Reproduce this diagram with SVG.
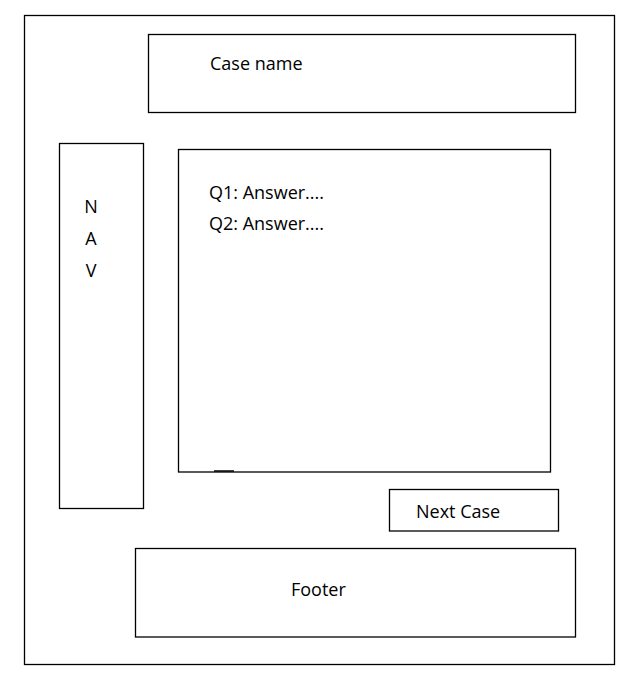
<svg xmlns="http://www.w3.org/2000/svg" width="632" height="678" viewBox="0 0 632 678">
<style>
.box{fill:#fff;stroke:#000;stroke-width:1.3}
.t{font-family:"Open Sans","Noto Sans","DejaVu Sans",sans-serif;font-size:18px;fill:#000}
.nav{text-anchor:middle}
</style>
<rect width="632" height="678" fill="#fff"/>
<g id="page"><rect class="box" x="24.5" y="15.5" width="590" height="649"/></g>
<g id="case-name"><rect class="box" x="148.5" y="34.5" width="427" height="78"/><text class="t" x="210" y="70">Case name</text></g>
<g id="nav"><rect class="box" x="59.5" y="143.5" width="84" height="365"/>
<text class="t nav" x="91" y="213">N</text><text class="t nav" x="91" y="245">A</text><text class="t nav" x="91" y="277">V</text></g>
<g id="content"><rect class="box" x="178.5" y="149.5" width="372" height="322.5"/>
<text class="t" x="209" y="199">Q1: Answer....</text><text class="t" x="209" y="230">Q2: Answer....</text>
<line x1="214" y1="471" x2="234" y2="471" stroke="#000" stroke-width="1.5"/></g>
<g id="next-case"><rect class="box" x="389.5" y="489.5" width="169" height="41.5"/><text class="t" x="416" y="518">Next Case</text></g>
<g id="footer"><rect class="box" x="135.5" y="548.5" width="440" height="88.5"/><text class="t" x="291" y="596">Footer</text></g>
<g id="connectors"></g>
</svg>
